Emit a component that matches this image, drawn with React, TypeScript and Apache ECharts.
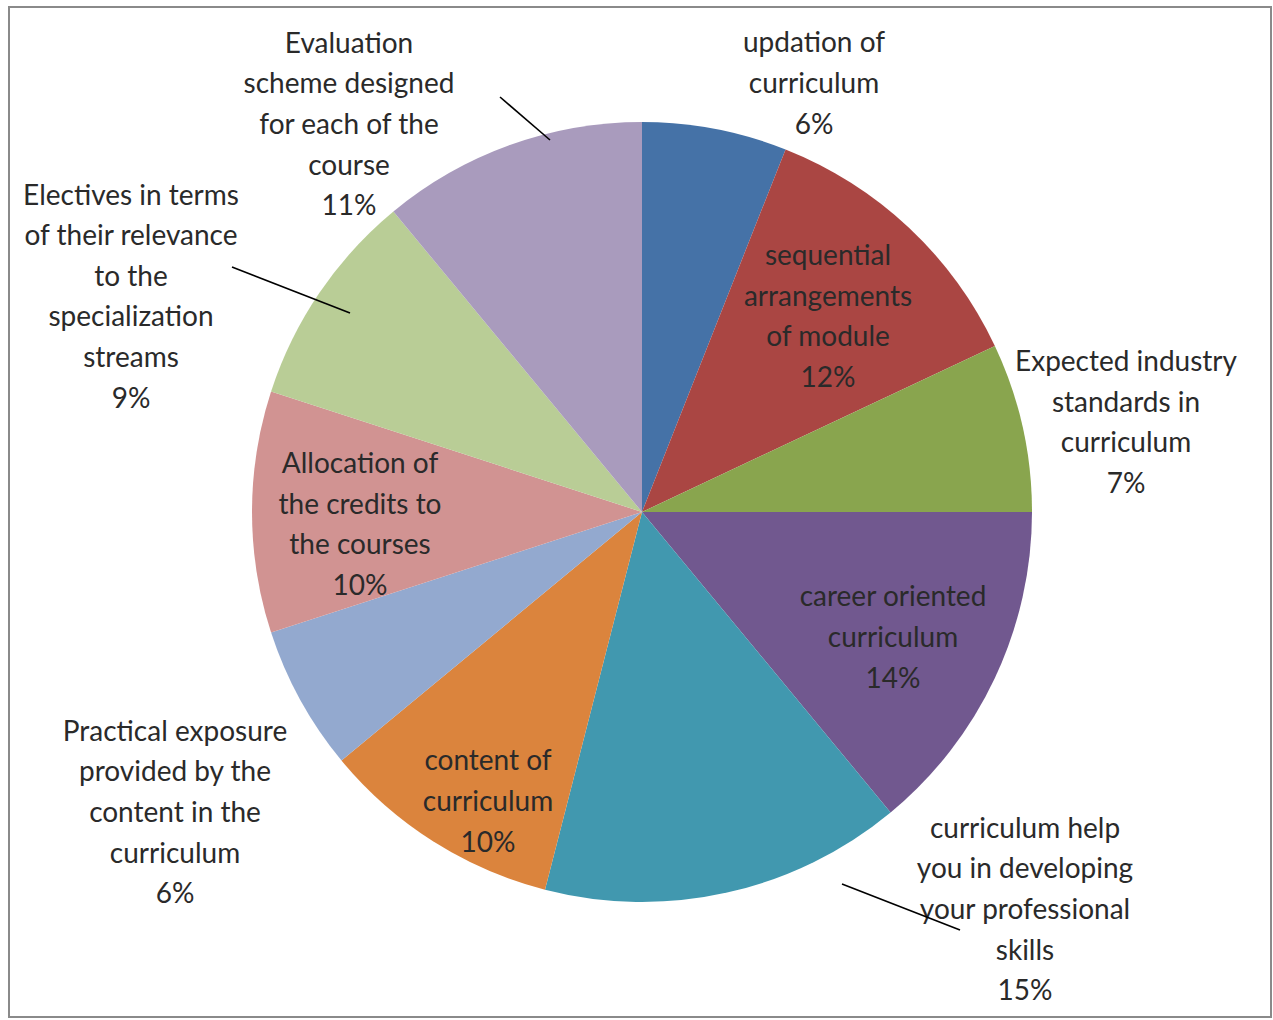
import React, { useEffect, useRef } from "react";
import * as echarts from "echarts";

const categories = [
  "updation of\ncurriculum",
  "sequential\narrangements\nof module",
  "Expected industry\nstandards in\ncurriculum",
  "career oriented\ncurriculum",
  "curriculum help\nyou in developing\nyour professional\nskills",
  "content of\ncurriculum",
  "Practical exposure\nprovided by the\ncontent in the\ncurriculum",
  "Allocation of\nthe credits to\nthe courses",
  "Electives in terms\nof their relevance\nto the\nspecialization\nstreams",
  "Evaluation\nscheme designed\nfor each of the\ncourse",
];

const shares = [6, 12, 7, 14, 15, 10, 6, 10, 9, 11];

const colors = [
  "#4572A7",
  "#AA4643",
  "#89A54E",
  "#71588F",
  "#4198AF",
  "#DB843D",
  "#93A9CF",
  "#D19392",
  "#B9CD96",
  "#A99BBD",
];

// label block centres (layout, not data)
const labelPos: [number, number][] = [
  [814, 82],
  [828, 315],
  [1126, 421],
  [893, 636],
  [1025, 908],
  [488, 800],
  [175, 811],
  [360, 523],
  [131, 295],
  [349, 123],
];

// leader lines drawn over the pie: [x1, y1, x2, y2]
const leaderLines: [number, number, number, number][] = [
  [842, 884, 960, 930],
  [232, 267, 350, 313],
  [500, 97, 550, 140],
];

export default function App() {
  const ref = useRef<HTMLDivElement>(null);

  useEffect(() => {
    if (!ref.current) return;
    const chart = echarts.init(ref.current, undefined, { renderer: "svg" });
    const data = categories.map((name, i) => ({
      name,
      value: shares[i],
      itemStyle: { color: colors[i] },
    }));
    chart.setOption({
      animation: false,
      backgroundColor: "#ffffff",
      graphic: [
        {
          type: "rect",
          shape: { x: 9, y: 7, width: 1262, height: 1010 },
          style: { fill: "none", stroke: "#8a8a8a", lineWidth: 2 },
          z: 10,
        },
        ...leaderLines.map((l) => ({
          type: "line",
          shape: { x1: l[0], y1: l[1], x2: l[2], y2: l[3] },
          style: { stroke: "#000000", lineWidth: 1.6 },
          z: 20,
        })),
      ],
      series: [
        {
          type: "pie",
          center: [642, 512],
          radius: 390,
          startAngle: 90,
          clockwise: true,
          avoidLabelOverlap: false,
          silent: true,
          data,
          label: {
            show: true,
            position: "outside",
            formatter: (p: any) => `${p.name}\n${p.value}%`,
            fontFamily: "Lato, 'Open Sans', sans-serif",
            fontSize: 28,
            lineHeight: 40.6,
            color: "#2a2a2a",
            align: "center",
          },
          labelLine: { show: false },
          labelLayout: (params: any) => {
            const i = params.dataIndex;
            return {
              x: labelPos[i][0],
              y: labelPos[i][1],
              align: "center",
              verticalAlign: "middle",
            };
          },
          emphasis: { disabled: true },
        },
      ],
    });
    return () => chart.dispose();
  }, []);

  return (
    <div
      ref={ref}
      style={{ position: "absolute", left: 0, top: 0, width: 1273, height: 1020 }}
    />
  );
}
